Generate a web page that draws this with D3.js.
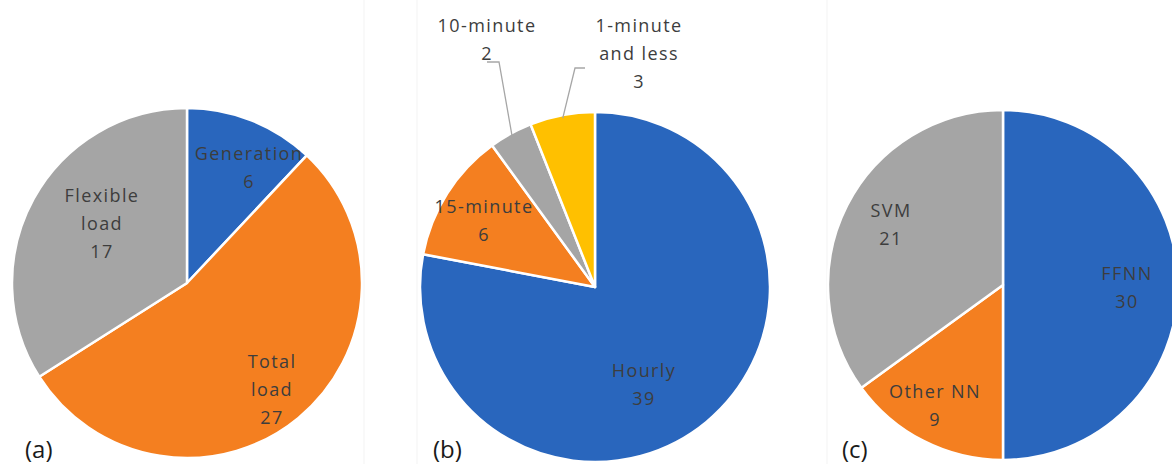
<!DOCTYPE html>
<html>
<head>
<meta charset="utf-8">
<script src="https://cdn.jsdelivr.net/npm/d3@7"></script>
<style>
  body { margin: 0; background: #fff; }
  text { font-family: "Open Sans", sans-serif; }
</style>
</head>
<body>
<div id="chart"></div>
<script>
// data
var panelLabels = ["(a)", "(b)", "(c)"];
var aCategories = ["Generation", "Total load", "Flexible load"];
var aValues = [6, 27, 17];
var bCategories = ["Hourly", "15-minute", "10-minute", "1-minute and less"];
var bValues = [39, 6, 2, 3];
var cCategories = ["FFNN", "Other NN", "SVM"];
var cValues = [30, 9, 21];

var width = 1172, height = 464;
var lineHeight = 28;

// layout: pie centres, label anchors (offset from centre), wrapping
var pies = [
  {
    cats: aCategories, vals: aValues, cx: 187, cy: 283, r: 175,
    colors: ["#2966bd", "#f47f20", "#a5a5a5"],
    labels: [
      {dx: 62, dy: -123, lines: ["Generation"]},
      {dx: 85, dy: 85, lines: ["Total", "load"]},
      {dx: -85, dy: -81, lines: ["Flexible", "load"]}
    ],
    tag: {x: 25, y: 458}
  },
  {
    cats: bCategories, vals: bValues, cx: 595, cy: 287, r: 175,
    colors: ["#2966bd", "#f47f20", "#a5a5a5", "#ffc000"],
    labels: [
      {dx: 49, dy: 90, lines: ["Hourly"]},
      {dx: -111, dy: -74, lines: ["15-minute"]},
      {dx: -108, dy: -255, lines: ["10-minute"], leader: [[-96, -225], [-108, -225]]},
      {dx: 44, dy: -255, lines: ["1-minute", "and less"], leader: [[-20, -219], [-10, -219]]}
    ],
    tag: {x: 433, y: 458}
  },
  {
    cats: cCategories, vals: cValues, cx: 1003, cy: 285, r: 175,
    colors: ["#2966bd", "#f47f20", "#a5a5a5"],
    labels: [
      {dx: 124, dy: -5, lines: ["FFNN"]},
      {dx: -68, dy: 113, lines: ["Other NN"]},
      {dx: -112, dy: -68, lines: ["SVM"]}
    ],
    tag: {x: 842, y: 458}
  }
];

var svg = d3.select("#chart")
  .append("svg")
  .attr("width", width)
  .attr("height", height);

svg.append("rect")
  .attr("width", width)
  .attr("height", height)
  .attr("fill", "#fff");

// faint chart-area borders left over from the source figure
[364, 417, 827].forEach(x => {
  svg.append("line")
    .attr("x1", x).attr("x2", x)
    .attr("y1", 0).attr("y2", height)
    .attr("stroke", "#f3f3f3")
    .attr("stroke-width", 1);
});

var pie = d3.pie().sort(null).value(d => d);

pies.forEach((p, i) => {
  var g = svg.append("g")
    .attr("transform", "translate(" + p.cx + "," + p.cy + ")");

  var arc = d3.arc().innerRadius(0).outerRadius(p.r);
  var arcs = pie(p.vals);

  g.selectAll("path")
    .data(arcs)
    .enter()
    .append("path")
    .attr("d", arc)
    .attr("fill", (d, j) => p.colors[j])
    .attr("stroke", "#fff")
    .attr("stroke-width", 2.5)
    .attr("stroke-linejoin", "round");

  arcs.forEach((a, j) => {
    var lab = p.labels[j];
    var lines = lab.lines.concat([String(p.vals[j])]);

    if (lab.leader) {
      var mid = (a.startAngle + a.endAngle) / 2;
      var start = [Math.sin(mid) * (p.r - 3), -Math.cos(mid) * (p.r - 3)];
      g.append("path")
        .attr("d", d3.line()([start].concat(lab.leader)))
        .attr("fill", "none")
        .attr("stroke", "#a6a6a6")
        .attr("stroke-width", 1.3);
    }

    var t = g.append("text")
      .attr("text-anchor", "middle")
      .attr("fill", "#3d3d3d")
      .attr("font-size", 18)
      .attr("letter-spacing", 1.4);
    lines.forEach((ln, k) => {
      t.append("tspan")
        .attr("x", lab.dx)
        .attr("y", lab.dy + k * lineHeight)
        .text(ln);
    });
  });

  svg.append("text")
    .attr("x", p.tag.x)
    .attr("y", p.tag.y)
    .attr("fill", "#1a1a1a")
    .attr("font-size", 24)
    .text(panelLabels[i]);
});
</script>
</body>
</html>
